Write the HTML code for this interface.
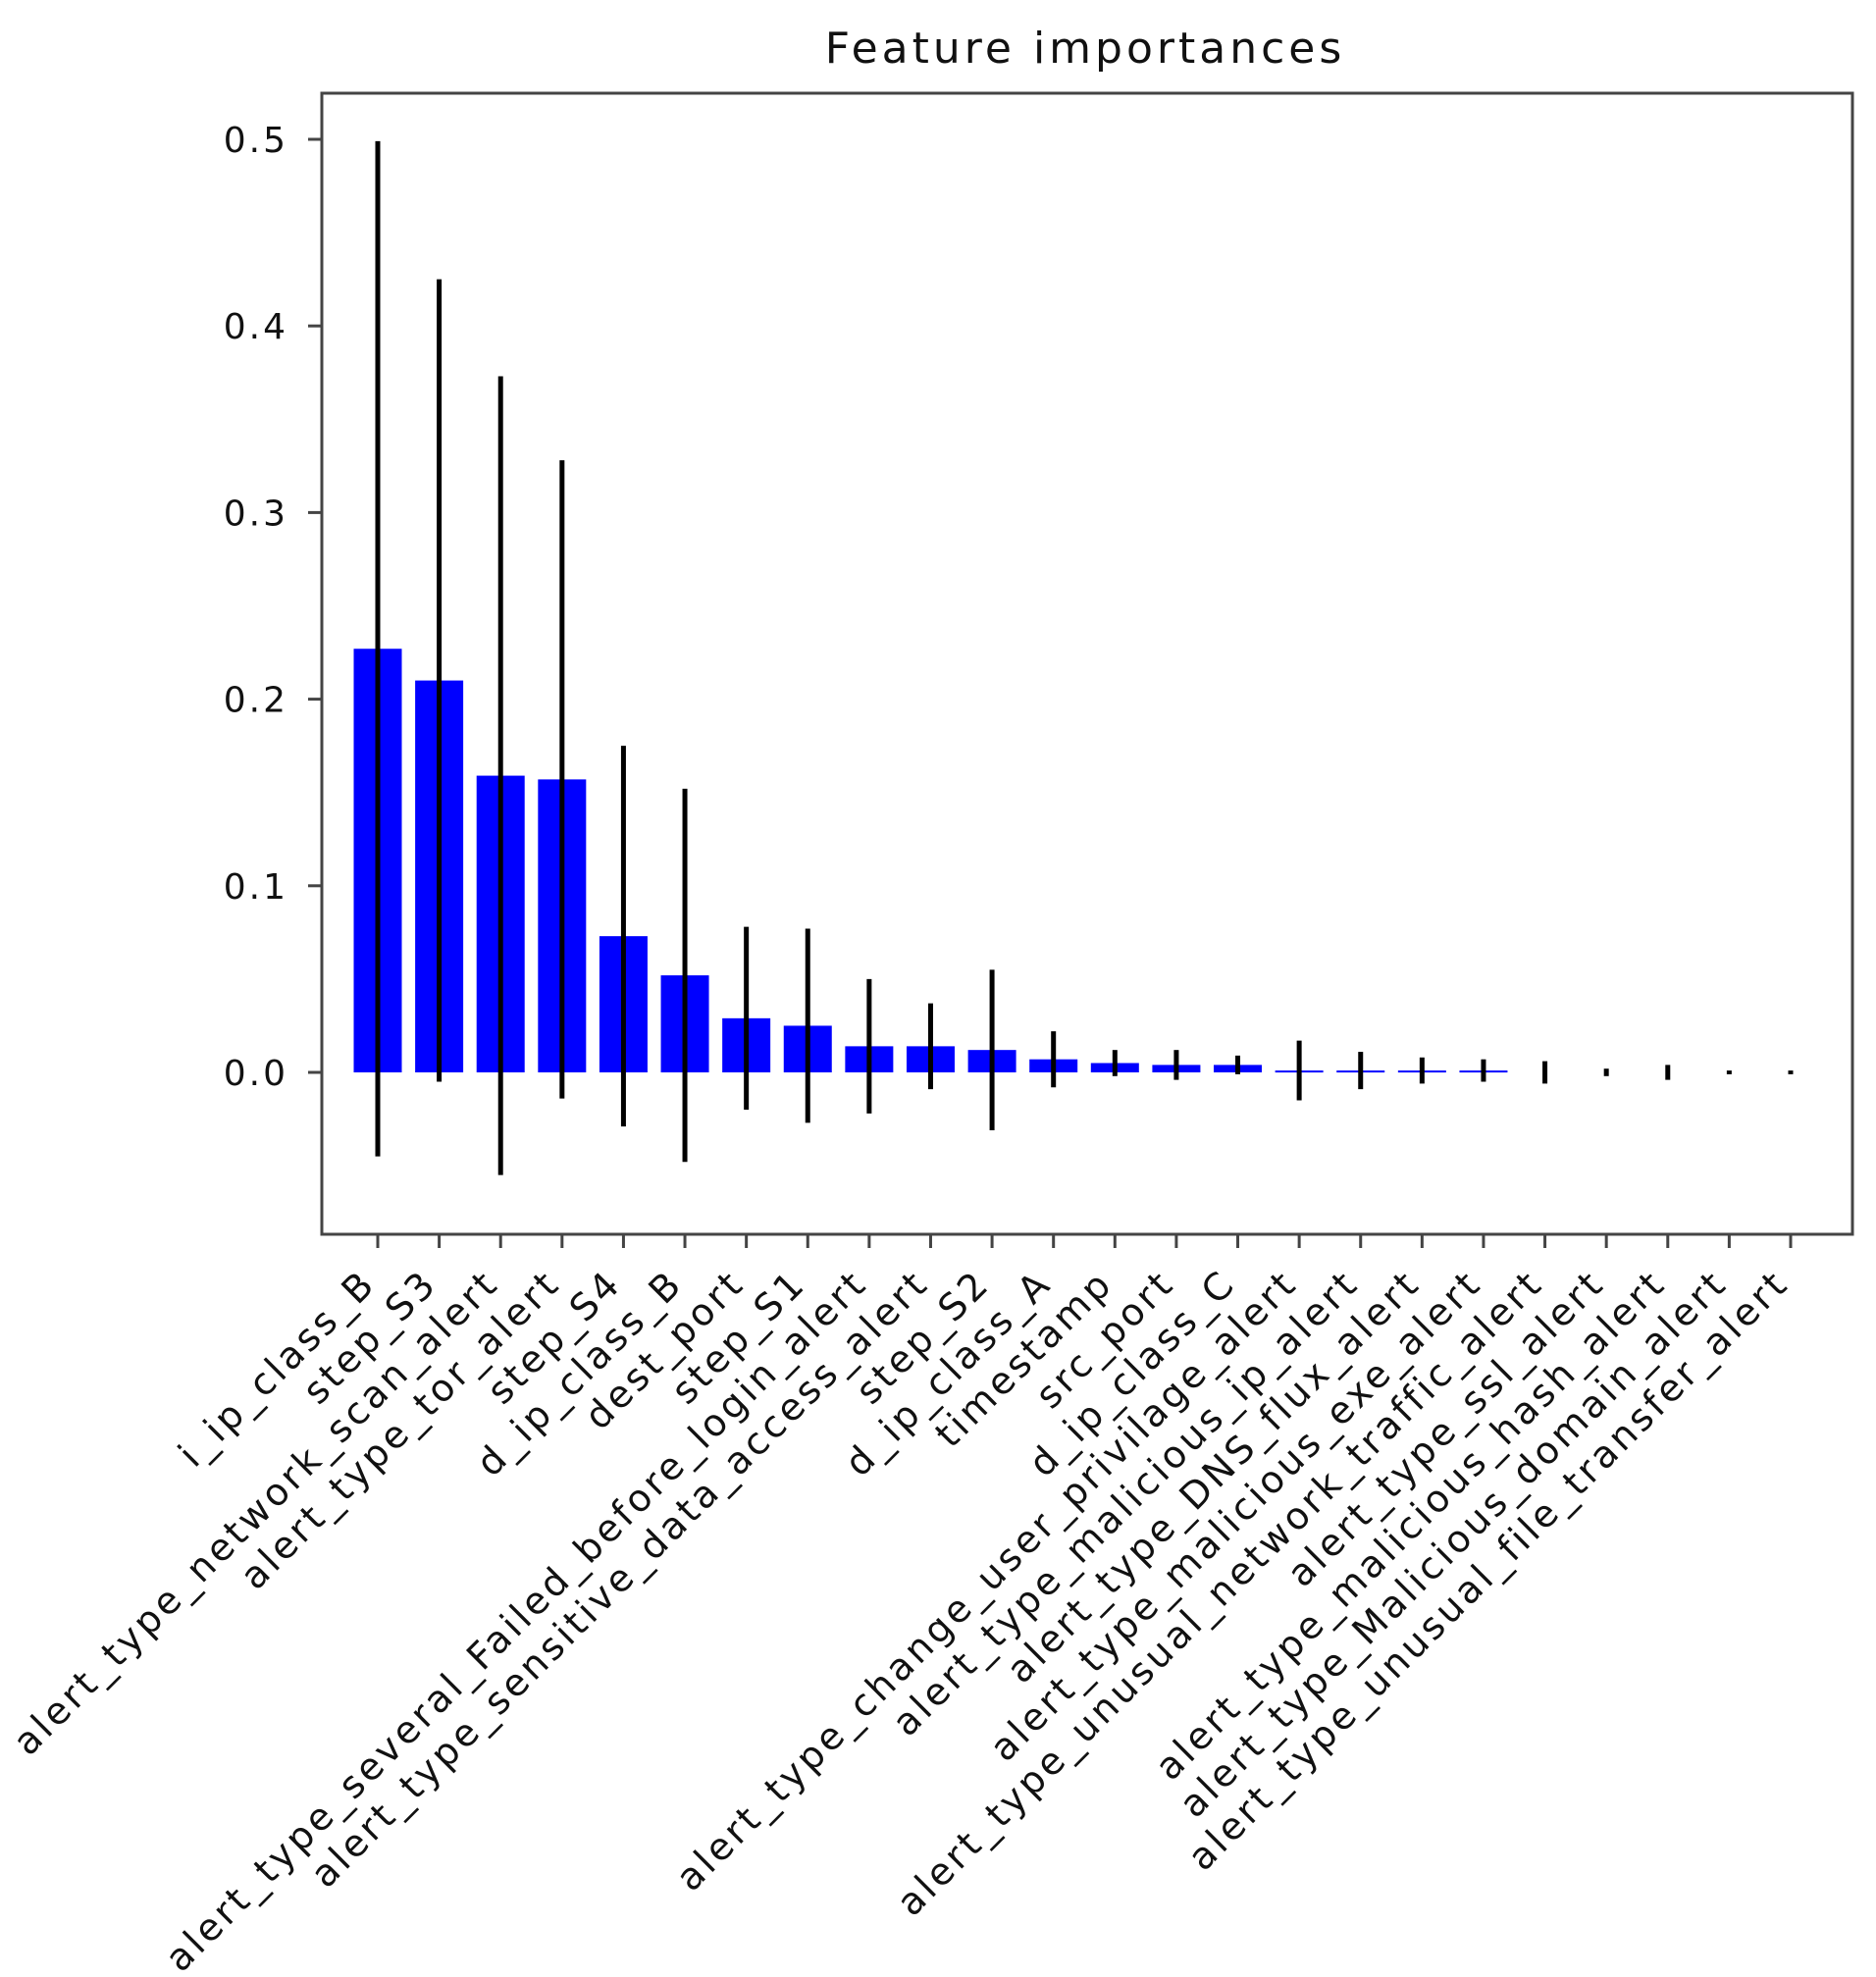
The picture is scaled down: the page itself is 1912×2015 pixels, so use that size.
<!DOCTYPE html>
<html><head><meta charset="utf-8"><style>
html,body{margin:0;padding:0;background:#fff;}
svg{display:block;font-family:"DejaVu Sans","Liberation Sans",sans-serif;}
</style></head><body>
<svg id="chart" width="1912" height="2015" viewBox="0 0 1912 2015">
<text x="1106" y="64" font-size="44" letter-spacing="4" text-anchor="middle" fill="#111">Feature importances</text>
<g id="plot"></g>
</svg>
<script>
const categories = ["i_ip_class_B","step_S3","alert_type_network_scan_alert","alert_type_tor_alert","step_S4","d_ip_class_B","dest_port","step_S1","alert_type_several_Failed_before_login_alert","alert_type_sensitive_data_access_alert","step_S2","d_ip_class_A","timestamp","src_port","d_ip_class_C","alert_type_change_user_privilage_alert","alert_type_malicious_ip_alert","alert_type_DNS_flux_alert","alert_type_malicious_exe_alert","alert_type_unusual_network_traffic_alert","alert_type_ssl_alert","alert_type_malicious_hash_alert","alert_type_Malicious_domain_alert","alert_type_unusual_file_transfer_alert"];
const importances = [0.227,0.21,0.159,0.157,0.073,0.052,0.029,0.025,0.014,0.014,0.012,0.007,0.005,0.004,0.004,0.001,0.001,0.001,0.001,0,0,0,0,0];
const stds = [0.272,0.215,0.214,0.171,0.102,0.1,0.049,0.052,0.036,0.023,0.043,0.015,0.007,0.008,0.005,0.016,0.01,0.007,0.006,0.006,0.002,0.004,0.001,0.001];
const yTicks = [0.0,0.1,0.2,0.3,0.4,0.5];
const yTickLabels = ["0.0","0.1","0.2","0.3","0.4","0.5"];

const NS="http://www.w3.org/2000/svg";
const g=document.getElementById('plot');
const L=328,R=1888,T=95,B=1258;
function yS(v){return 1093-v*1902;}
function xS(i){return 385+i*(1825-385)/(categories.length-1);}
function mk(tag,attrs,parent){const e=document.createElementNS(NS,tag);for(const k in attrs)e.setAttribute(k,attrs[k]);(parent||g).appendChild(e);return e;}
const bw=49;
importances.forEach((v,i)=>{
  const x=xS(i);
  const y0=yS(0),y1=yS(v);
  const r=mk('rect',{x:x-bw/2,y:Math.min(y0,y1),width:bw,height:Math.max(Math.abs(y0-y1),v>0?2:0),fill:'#0000ff'});
  
  
  const ln=mk('line',{x1:x,x2:x,y1:yS(v+stds[i]),y2:yS(v-stds[i]),stroke:'#000','stroke-width':5});
  
  
  const tk=mk('line',{x1:x,x2:x,y1:B,y2:B+14,stroke:'#444','stroke-width':3});
  
  
  const ax=x-20,ay=1290;
  const t=mk('text',{x:ax,y:ay,dy:'0.75em','font-size':38,'letter-spacing':3.5,'text-anchor':'end',fill:'#111',transform:`rotate(-45 ${ax} ${ay})`});
  t.textContent=categories[i];
  
  
});
yTicks.forEach((v,i)=>{
  const y=yS(v);
  const tk=mk('line',{x1:L-14,x2:L,y1:y,y2:y,stroke:'#444','stroke-width':3});
  
  
  const t=mk('text',{x:L-34,y:y+13,'font-size':36,'letter-spacing':3,'text-anchor':'end',fill:'#111'});
  t.textContent=yTickLabels[i];
  
  
});
const fr=mk('rect',{x:L,y:T,width:R-L,height:B-T,fill:'none',stroke:'#444','stroke-width':3});


</script>
</body></html>
